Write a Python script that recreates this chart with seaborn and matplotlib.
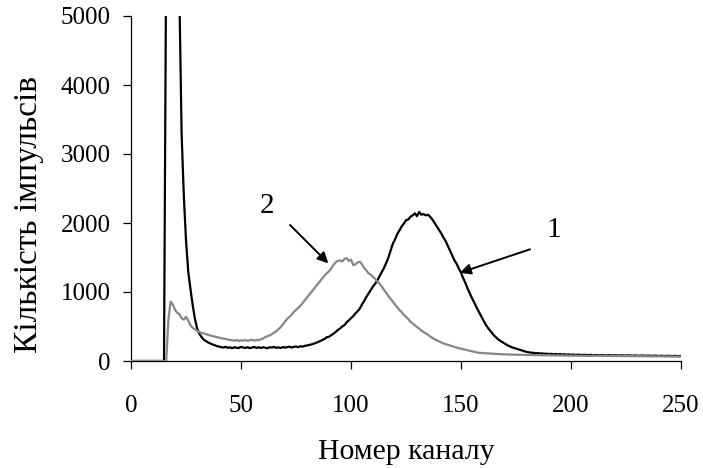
import matplotlib
matplotlib.use("Agg")
import matplotlib.pyplot as plt
import seaborn as sns
import numpy as np
import pandas as pd

channels = list(range(0, 251))

series1 = [
    0, 0, 0, 0, 0, 0, 0, 0, 0, 0,
    0, 0, 0, 0, 0, 0, 6000, 9500, 11000, 10500,
    9000, 7200, 5300, 3300, 2400, 1750, 1300, 1050, 820, 620,
    480, 400, 350, 310, 290, 270, 255, 240, 230, 215,
    210, 200, 195, 205, 190, 198, 185, 200, 192, 188,
    205, 195, 190, 200, 185, 195, 203, 190, 198, 188,
    200, 192, 185, 200, 195, 205, 190, 198, 188, 202,
    195, 200, 208, 195, 205, 210, 200, 215, 208, 220,
    225, 232, 240, 250, 262, 275, 290, 305, 320, 345,
    350, 375, 395, 420, 450, 470, 500, 520, 560, 590,
    620, 650, 690, 720, 760, 820, 870, 930, 980, 1030,
    1080, 1120, 1170, 1230, 1290, 1350, 1420, 1500, 1600, 1700,
    1760, 1840, 1890, 1950, 1990, 2040, 2050, 2090, 2110, 2140,
    2100, 2160, 2120, 2130, 2110, 2120, 2090, 2050, 2000, 1950,
    1900, 1850, 1790, 1740, 1670, 1600, 1530, 1460, 1410, 1340,
    1280, 1200, 1130, 1050, 980, 910, 850, 780, 720, 660,
    600, 540, 490, 450, 410, 370, 340, 310, 290, 270,
    250, 230, 215, 200, 190, 180, 170, 160, 150, 140,
    130, 125, 120, 118, 112, 115, 108, 110, 104, 106,
    100, 104, 98, 102, 96, 100, 94, 98, 92, 96,
    90, 94, 88, 92, 90, 86, 90, 88, 85, 89,
    84, 88, 86, 82, 87, 84, 80, 85, 83, 80,
    84, 81, 79, 83, 80, 78, 82, 79, 77, 81,
    78, 76, 80, 77, 75, 79, 76, 74, 78, 75,
    73, 77, 74, 72, 76, 73, 71, 75, 72, 70,
    74,
]

series2 = [
    0, 0, 0, 0, 0, 0, 0, 0, 0, 0,
    0, 0, 0, 0, 0, 0, 0, 600, 860, 820,
    740, 700, 680, 620, 600, 640, 590, 520, 480, 460,
    440, 420, 410, 400, 390, 380, 370, 360, 355, 345,
    340, 330, 325, 320, 310, 305, 300, 295, 305, 290,
    300, 295, 305, 290, 300, 310, 295, 305, 300, 315,
    325, 345, 360, 370, 390, 410, 430, 460, 490, 530,
    570, 610, 640, 670, 710, 740, 770, 800, 840, 880,
    920, 960, 1000, 1040, 1080, 1120, 1160, 1200, 1240, 1270,
    1300, 1340, 1390, 1430, 1450, 1460, 1440, 1480, 1490, 1450,
    1470, 1390, 1400, 1430, 1440, 1400, 1350, 1310, 1270, 1250,
    1220, 1190, 1150, 1120, 1080, 1030, 990, 940, 900, 860,
    820, 780, 740, 710, 670, 640, 610, 570, 545, 520,
    490, 470, 440, 420, 400, 380, 355, 335, 315, 300,
    285, 270, 255, 245, 235, 225, 215, 205, 195, 185,
    180, 170, 165, 155, 150, 140, 135, 125, 120, 118,
    115, 112, 110, 108, 105, 103, 101, 100, 98, 97,
    96, 95, 94, 93, 92, 91, 90, 89, 88, 88,
    87, 86, 88, 85, 87, 84, 86, 83, 85, 82,
    84, 81, 83, 80, 82, 79, 81, 78, 80, 77,
    79, 76, 78, 75, 77, 74, 76, 73, 75, 72,
    78, 75, 77, 74, 76, 73, 75, 72, 74, 71,
    75, 72, 74, 71, 73, 70, 72, 69, 71, 68,
    72, 69, 71, 68, 70, 67, 69, 66, 68, 65,
    69, 66, 68, 65, 67, 64, 66, 63, 65, 62,
    64,
]

x_ticks = [0, 50, 100, 150, 200, 250]
y_ticks = [0, 1000, 2000, 3000, 4000, 5000]
x_label = "Номер каналу"
y_label = "Кількість імпульсів"

sns.set_theme(style="white")
plt.rcParams["font.family"] = ["Liberation Serif", "DejaVu Serif"]

fig = plt.figure(figsize=(7.03, 4.68), dpi=100)
ax = fig.add_axes([131 / 703, 1 - 361 / 468, 550 / 703, 345 / 468])

df1 = pd.DataFrame({"ch": channels, "cnt": series1})
df2 = pd.DataFrame({"ch": channels, "cnt": series2})
sns.lineplot(data=df1, x="ch", y="cnt", ax=ax, color="black", lw=1.6, zorder=3)
sns.lineplot(data=df2, x="ch", y="cnt", ax=ax, color="#868686", lw=1.6, zorder=3)

ax.set_xlim(0, 250)
ax.set_ylim(0, 5000)
ax.set_xticks(x_ticks)
ax.set_yticks(y_ticks)
ax.set_xticklabels([str(v) for v in x_ticks])
ax.set_yticklabels([str(v) for v in y_ticks])

for s in ["top", "right"]:
    ax.spines[s].set_visible(False)
for s in ["left", "bottom"]:
    ax.spines[s].set_color("black")
    ax.spines[s].set_linewidth(0.9)

ax.tick_params(axis="both", which="major", direction="out", length=5.5, width=0.9,
               color="black", labelsize=18, labelcolor="black")
ax.tick_params(axis="x", pad=19, bottom=True)
ax.tick_params(axis="y", pad=9, left=True)
ax.grid(False)

ax.set_xlabel(x_label, fontsize=21.5, color="black")
ax.set_ylabel(y_label, fontsize=24, color="black")
ax.xaxis.set_label_coords(0.5, -0.226)
ax.yaxis.set_label_coords(-0.158, 0.426)

ax.annotate("", xy=(89.7, 1416), xytext=(72.3, 1971),
            arrowprops=dict(arrowstyle="-|>", color="black", lw=1.4, mutation_scale=16,
                            shrinkA=0, shrinkB=0))
ax.annotate("", xy=(149.5, 1279), xytext=(181.4, 1619),
            arrowprops=dict(arrowstyle="-|>", color="black", lw=1.4, mutation_scale=16,
                            shrinkA=0, shrinkB=0))
ax.text(61.8, 2246, "2", fontsize=21, ha="center", va="center", color="black")
ax.text(192, 1898, "1", fontsize=21, ha="center", va="center", color="black")

fig.savefig("out.png", dpi=100, facecolor="white")
